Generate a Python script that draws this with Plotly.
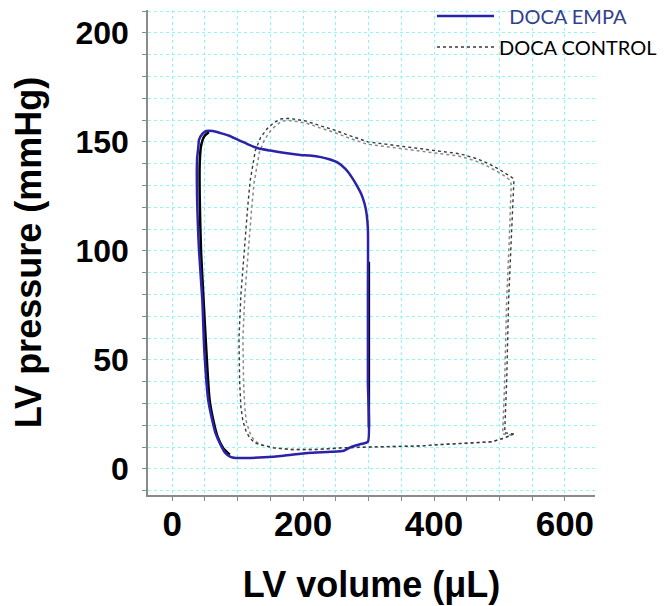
import plotly.graph_objects as go

# LV pressure-volume loops
# DOCA EMPA, main beat (blue)
empa_vol = [299, 299, 299, 299, 297, 294, 289, 283, 275, 265, 253, 240, 227, 210, 196,
            170, 150, 130, 115, 100, 87, 74, 62, 52, 46, 41, 40, 38, 38, 41, 46, 49, 55, 61,
            66, 74, 81, 89, 97, 110, 140, 170, 207, 242, 262, 273, 290, 299]
empa_pres = [12.4, 40, 80, 110, 117, 121.5, 126, 129.5, 133.5, 137.5, 140.5, 142, 143, 143.7,
             144, 145, 146, 147.2, 149, 151, 152.8, 154, 155, 155, 153.7, 151, 148, 142, 125, 100,
             77.5, 54.6, 31.6, 22.5, 16.5, 11, 7.3, 5.5, 5, 5, 5.3, 6, 7.3, 7.8, 8.3, 10, 11.5, 12.4]

# DOCA EMPA, other beats showing under the blue line (black)
empa_b_vol = [56, 49, 44, 42, 42, 44, 48, 52, 57, 63, 69, 78, 88, None, 300.5, 300.5, 300.5]
empa_b_pres = [154.5, 152.5, 148, 140, 125, 100, 77, 55, 32, 22, 15, 9.5, 6.5, None, 95, 60, 19]

# DOCA CONTROL, beat 1 (outer trace)
ctrl1_vol = [522, 508, 511, 514, 518, 522, 520, 510, 499, 480, 462, 440, 416, 380, 350, 320,
             299, 270, 247, 225, 205, 190, 176, 165, 155, 145, 135, 127, 122, 119, 115, 110,
             105, 102, 103, 105, 108, 113, 119, 126, 135, 155, 181, 220, 258, 299, 340, 381,
             401, 447, 488, 508, 522]
ctrl1_pres = [16, 16.5, 40, 77.5, 105, 131.6, 133.5, 135.5, 137.5, 140.5, 142.6, 144.5, 145.4,
              146.8, 147.8, 149, 150, 153, 155.5, 157.5, 159.5, 160.3, 160.8, 160.5, 158.7, 156,
              152, 146, 138, 132, 119, 100, 80, 60, 40, 28, 22, 17, 14, 12, 11, 9.6, 8.9, 8.9,
              9.6, 10, 10.2, 10.5, 11, 11.9, 12.4, 14.2, 16]

# DOCA CONTROL, beat 2 (inner trace)
ctrl2_vol = [519, 505, 508, 511, 515, 518, 516, 507, 496, 478, 460, 438, 414, 378, 348, 318,
             297, 268, 246, 225, 206, 191, 178, 168, 159, 150, 141, 133, 128, 125, 121, 116,
             111, 108, 109, 111, 113, 118, 123, 129, 138, 157, 182, 220, 258, 299, 340, 381,
             401, 447, 488, 506, 519]
ctrl2_pres = [15.5, 16, 40, 77.5, 105, 130.5, 132.5, 134.5, 136.5, 139.5, 141.6, 143.5, 144.4,
              145.8, 146.8, 148, 149, 152, 154.5, 156.5, 158.5, 159.3, 159.8, 159.5, 157.7, 155,
              151, 145, 137, 131, 118, 100, 80, 60, 40, 28, 22, 17, 14, 12.2, 11, 9.6, 8.9, 8.9,
              9.6, 10, 10.2, 10.5, 11, 11.9, 12.4, 14, 15.5]

AXIS_FONT = "Liberation Sans"
GRID = "#8cf8f8"
AXCOL = "#8a8a8a"

fig = go.Figure()

# Control loops (grey dotted)
fig.add_trace(go.Scatter(x=ctrl2_vol, y=ctrl2_pres, mode="lines", showlegend=False,
                         line=dict(color="#8a8a8a", width=1.5, dash="dot")))
fig.add_trace(go.Scatter(x=ctrl1_vol, y=ctrl1_pres, mode="lines", name="DOCA CONTROL",
                         legend="legend2",
                         line=dict(color="#3a3a3a", width=1.4, dash="dot")))

# EMPA loops
fig.add_trace(go.Scatter(x=empa_b_vol, y=empa_b_pres, mode="lines", showlegend=False,
                         line=dict(color="black", width=2.5, shape="spline", smoothing=0.6)))
fig.add_trace(go.Scatter(x=empa_vol, y=empa_pres, mode="lines", name="\u00a0\u00a0DOCA EMPA",
                         legend="legend",
                         line=dict(color="#2a22a8", width=2.5, shape="spline", smoothing=0.6)))

tick_font = dict(family=AXIS_FONT, size=35, color="black", weight="bold")
title_font = dict(family=AXIS_FONT, size=36, color="black", weight="bold")

fig.update_xaxes(
    range=[-37, 646], tick0=0, dtick=200,
    ticks="outside", ticklen=4, tickcolor=AXCOL, tickwidth=1,
    showline=True, linecolor=AXCOL, linewidth=1.5,
    showgrid=True, gridcolor=GRID, griddash="dot", gridwidth=1,
    minor=dict(tick0=0, dtick=50, ticks="outside", ticklen=4, tickcolor=AXCOL,
               showgrid=True, gridcolor=GRID, griddash="dot"),
    zeroline=False, tickfont=tick_font, ticklabelstandoff=-7,
    title=dict(text="LV volume (\u03bcL)", font=title_font, standoff=30),
)
fig.update_yaxes(
    range=[-12, 210.5], tick0=0, dtick=50,
    ticks="outside", ticklen=4, tickcolor=AXCOL, tickwidth=1,
    showline=True, linecolor=AXCOL, linewidth=1.5,
    showgrid=True, gridcolor=GRID, griddash="dot", gridwidth=1,
    minor=dict(tick0=0, dtick=10, ticks="outside", ticklen=4, tickcolor=AXCOL,
               showgrid=True, gridcolor=GRID, griddash="dot"),
    zeroline=False, tickfont=dict(family=AXIS_FONT, size=32, color="black", weight="bold"),
    ticklabelstandoff=7,
    title=dict(text="LV pressure (mmHg)", font=title_font, standoff=36),
)

# page body has an 8px margin, so the canvas is 8px smaller and shifted
fig.update_layout(
    width=660, height=598,
    margin=dict(l=140, r=73, t=2, b=111, autoexpand=False),
    plot_bgcolor="white", paper_bgcolor="white",
    legend=dict(xref="container", yref="container", x=424 / 660, y=1 - 8 / 598,
                xanchor="left", yanchor="middle", itemwidth=57,
                bgcolor="rgba(0,0,0,0)",
                font=dict(family="Lato", size=20, color="#33418a")),
    legend2=dict(xref="container", yref="container", x=424 / 660, y=1 - 39 / 598,
                 xanchor="left", yanchor="middle", itemwidth=57,
                 bgcolor="rgba(0,0,0,0)",
                 font=dict(family="Lato", size=20, color="black")),
)

fig.write_html("out.html")
